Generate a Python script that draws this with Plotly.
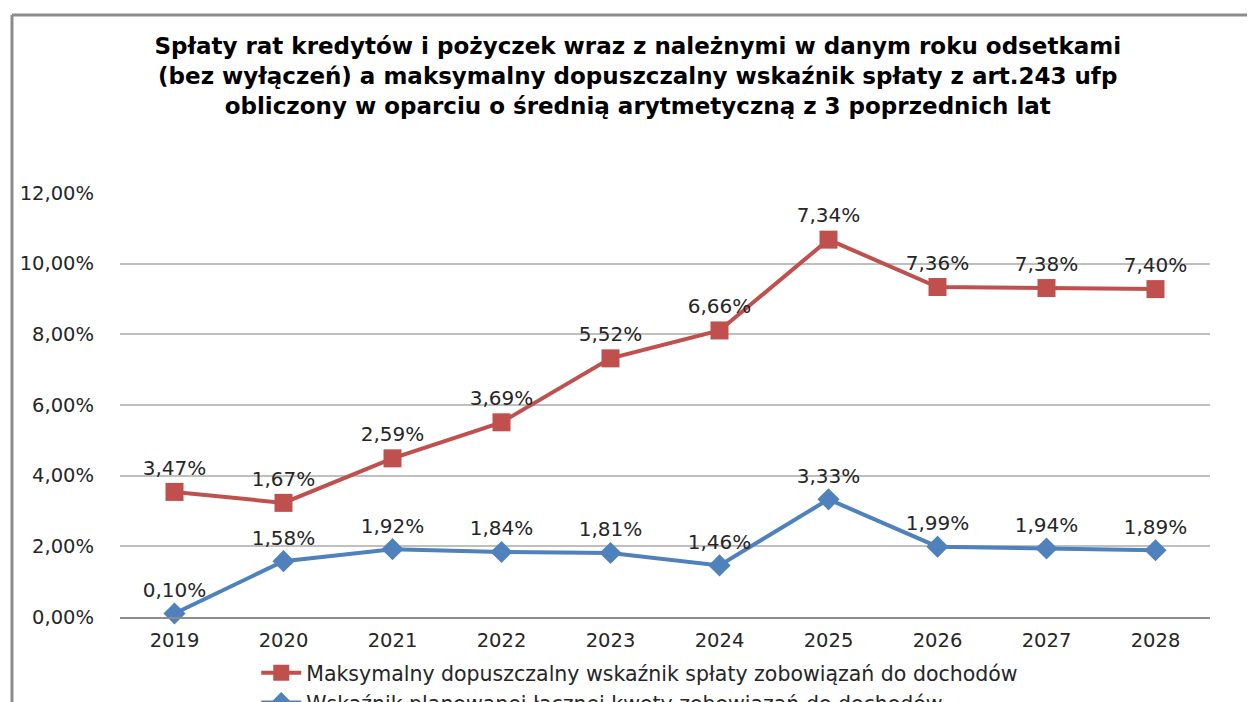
import plotly.graph_objects as go

years = ["2019", "2020", "2021", "2022", "2023", "2024", "2025", "2026", "2027", "2028"]
max_values = [3.54, 3.23, 4.49, 5.51, 7.32, 8.11, 10.68, 9.34, 9.31, 9.28]
max_labels = ["3,47%", "1,67%", "2,59%", "3,69%", "5,52%", "6,66%", "7,34%", "7,36%", "7,38%", "7,40%"]
plan_values = [0.10, 1.58, 1.92, 1.84, 1.81, 1.46, 3.33, 1.99, 1.94, 1.89]
plan_labels = ["0,10%", "1,58%", "1,92%", "1,84%", "1,81%", "1,46%", "3,33%", "1,99%", "1,94%", "1,89%"]
y_ticks = [0, 2, 4, 6, 8, 10, 12]
y_tick_labels = ["0,00%", "2,00%", "4,00%", "6,00%", "8,00%", "10,00%", "12,00%"]

name_max = "Maksymalny dopuszczalny wskaźnik spłaty zobowiązań do dochodów"
name_plan = "Wskaźnik planowanej łącznej kwoty zobowiązań do dochodów"
title_text = ("Spłaty rat kredytów i pożyczek wraz z należnymi w danym roku odsetkami<br>"
              "(bez wyłączeń) a maksymalny dopuszczalny wskaźnik spłaty z art.243 ufp<br>"
              "obliczony w oparciu o średnią arytmetyczną z 3 poprzednich lat")

RED = "#C0504D"
BLUE = "#4F81BD"
LABEL_FONT = dict(family="DejaVu Sans, Verdana, sans-serif", size=20, color="#262626")
TICK_FONT = dict(family="DejaVu Sans, Verdana, sans-serif", size=19.5, color="#262626")

fig = go.Figure()
fig.add_trace(go.Scatter(
    x=years, y=max_values, name=name_max, mode="lines+markers+text",
    text=max_labels, textposition="top center", textfont=LABEL_FONT,
    line=dict(color=RED, width=4),
    marker=dict(symbol="square", size=18, color=RED),
    cliponaxis=False,
))
fig.add_trace(go.Scatter(
    x=years, y=plan_values, name=name_plan, mode="lines+markers+text",
    text=plan_labels, textposition="top center", textfont=LABEL_FONT,
    line=dict(color=BLUE, width=4),
    marker=dict(symbol="diamond", size=17, color=BLUE),
    cliponaxis=False,
))

# page body adds an 8px offset; the figure is sized so it ends at the window edge
fig.update_layout(
    width=1247, height=694,
    paper_bgcolor="white", plot_bgcolor="white",
    margin=dict(l=112, r=45, t=185, b=85, autoexpand=False),
    title=dict(text=title_text, x=0.505, xanchor="center", xref="container",
               y=0.934, yanchor="top",
               font=dict(family="DejaVu Sans, sans-serif", size=23, color="black", weight="bold")),
    showlegend=True,
    legend=dict(x=0.125, y=-0.085, xanchor="left", yanchor="top",
                font=dict(family="DejaVu Sans, sans-serif", size=20.5, color="#262626"),
                tracegroupgap=0, itemwidth=40, bgcolor="rgba(0,0,0,0)"),
    xaxis=dict(type="category", showgrid=False, showline=True, linecolor="#8c8c8c", linewidth=1.5,
               ticks="", tickfont=TICK_FONT, range=[-0.5, 9.5], ticklabelstandoff=5),
    yaxis=dict(range=[0, 12], tickvals=y_ticks, ticktext=y_tick_labels,
               showgrid=True, gridcolor="#bfbfbf", gridwidth=1.5, zeroline=False,
               showline=False, ticks="", tickfont=TICK_FONT, ticklabelstandoff=25),
    shapes=[
        dict(type="line", xref="paper", yref="paper", x0=-0.0991, x1=1.05, y0=1.4198, y1=1.4198,
             line=dict(color="#8c8c8c", width=3)),
        dict(type="line", xref="paper", yref="paper", x0=-0.0991, x1=-0.0991, y0=1.4198, y1=-0.3,
             line=dict(color="#8c8c8c", width=3)),
    ],
)

fig.write_html("out.html")
